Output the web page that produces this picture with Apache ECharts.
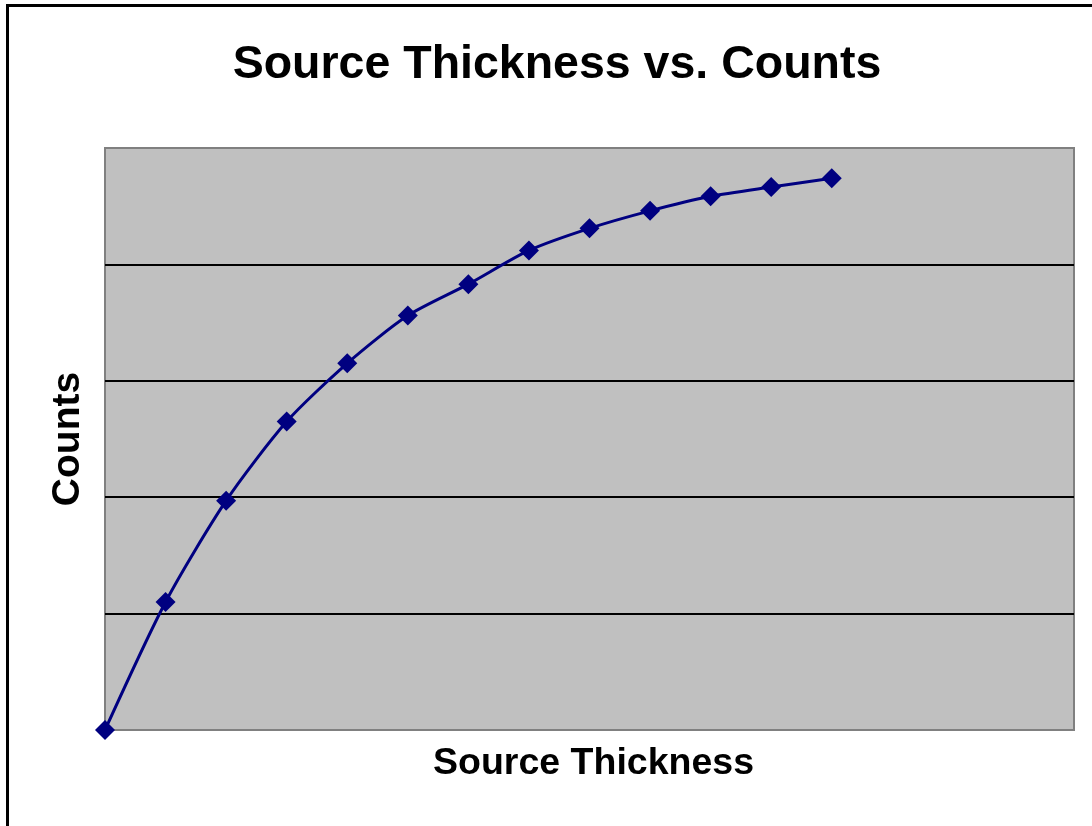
<!DOCTYPE html>
<html>
<head>
<meta charset="utf-8">
<script src="https://cdn.jsdelivr.net/npm/echarts@6/dist/echarts.min.js"></script>
<style>
  html, body { margin: 0; padding: 0; background: #ffffff; }
  #chart { width: 1092px; height: 826px; }
</style>
</head>
<body>
<div id="chart"></div>
<script>
// Measured counts for successive source thickness steps
const thickness = [0, 1, 2, 3, 4, 5, 6, 7, 8, 9, 10, 11, 12];
const counts = [0, 1100, 1970, 2650, 3150, 3560, 3830, 4120, 4310, 4460, 4585, 4665, 4740];

const chartTitle = 'Source Thickness vs. Counts';
const xName = 'Source Thickness';
const yName = 'Counts';

const points = thickness.map((t, i) => [t, counts[i]]);

const chart = echarts.init(document.getElementById('chart'));
chart.setOption({
  animation: false,
  backgroundColor: '#ffffff',
  title: {
    text: chartTitle,
    left: 552,
    top: 37,
    textAlign: 'center',
    textStyle: {
      fontFamily: 'Liberation Sans, Arial, sans-serif',
      fontWeight: 'bold',
      fontSize: 46.5,
      color: '#000000'
    }
  },
  graphic: [{
    type: 'rect',
    shape: { x: 7.5, y: 5.5, width: 1200, height: 900 },
    style: { fill: null, stroke: '#000000', lineWidth: 3 },
    silent: true
  }],
  grid: {
    left: 105,
    right: 18,
    top: 148,
    bottom: 96,
    show: true,
    backgroundColor: '#c0c0c0',
    borderColor: '#808080',
    borderWidth: 2
  },
  xAxis: {
    type: 'value',
    min: 0,
    max: 16,
    interval: 1,
    name: xName,
    nameLocation: 'middle',
    nameGap: 15,
    nameTextStyle: {
      fontFamily: 'Liberation Sans, Arial, sans-serif',
      fontWeight: 'bold',
      fontSize: 37.5,
      color: '#000000',
      padding: [0, 0, 0, 8]
    },
    axisLine: { show: false },
    axisTick: { show: false },
    axisLabel: { show: false },
    splitLine: { show: false }
  },
  yAxis: {
    type: 'value',
    min: 0,
    max: 5000,
    interval: 1000,
    name: yName,
    nameLocation: 'middle',
    nameGap: 17,
    nameTextStyle: {
      fontFamily: 'Liberation Sans, Arial, sans-serif',
      fontWeight: 'bold',
      fontSize: 39,
      color: '#000000'
    },
    axisLine: { show: false },
    axisTick: { show: false },
    axisLabel: { show: false },
    splitLine: {
      show: true,
      lineStyle: {
        color: ['#808080', '#000000', '#000000', '#000000', '#000000', '#808080'],
        width: 2
      }
    }
  },
  series: [{
    type: 'line',
    data: points,
    smooth: 0.25,
    symbol: 'diamond',
    symbolSize: 20,
    lineStyle: { color: '#000080', width: 3 },
    itemStyle: { color: '#000080' },
    clip: false
  }]
});
</script>
</body>
</html>
